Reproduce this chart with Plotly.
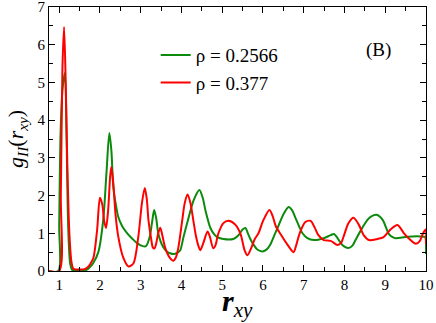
import plotly.graph_objects as go

# rho = 0.2566 (green)
green_x = [0.75, 0.98, 1.00, 1.03, 1.08, 1.14, 1.18, 1.22, 1.27, 1.32, 1.5, 1.65, 1.75, 1.84, 1.96,
           2.08, 2.16, 2.23, 2.28, 2.33, 2.40, 2.45, 2.55, 2.67, 2.8, 2.91, 3.05, 3.13, 3.22, 3.28,
           3.33, 3.38, 3.43, 3.49, 3.55, 3.64, 3.72, 3.82, 3.92, 3.97, 4.05, 4.14, 4.3, 4.44, 4.52,
           4.59, 4.71, 4.8, 4.88, 5.03, 5.27, 5.4, 5.5, 5.57, 5.63, 5.69, 5.78, 5.86, 5.99, 6.1,
           6.18, 6.28, 6.38, 6.5, 6.63, 6.72, 6.8, 6.88, 6.97, 7.08, 7.25, 7.49, 7.66, 7.74, 7.8,
           7.86, 7.98, 8.1, 8.2, 8.27, 8.44, 8.6, 8.79, 8.94, 9.02, 9.09, 9.18, 9.26, 9.55, 9.94,
           9.98, 10.0]
green_g = [0, 0, 1.2, 3.5, 4.8, 5.25, 3.6, 1.2, 0.2, 0.03, 0.0, 0.02, 0.1, 0.22, 0.5,
           1.35, 2.6, 3.66, 3.2, 2.2, 1.7, 1.43, 1.18, 1.0, 0.85, 0.74, 0.66, 0.66, 0.9, 1.3,
           1.62, 1.4, 1.0, 0.78, 0.64, 0.52, 0.47, 0.45, 0.5, 0.55, 0.9, 1.27, 1.88, 2.15, 1.95,
           1.6, 1.14, 0.98, 0.9, 0.85, 0.85, 0.95, 1.1, 1.14, 1.0, 0.85, 0.68, 0.57, 0.52, 0.58,
           0.7, 0.95, 1.2, 1.5, 1.7, 1.6, 1.4, 1.2, 1.0, 0.88, 0.82, 0.87, 0.95, 0.98, 0.92,
           0.82, 0.66, 0.61, 0.68, 0.82, 1.15, 1.4, 1.49, 1.35, 1.15, 0.98, 0.9, 0.87, 0.91, 0.91,
           0.9, 0.45]

# rho = 0.377 (red)
red_x = [0.75, 1.00, 1.04, 1.08, 1.12, 1.16, 1.2, 1.25, 1.3, 1.35, 1.5, 1.62, 1.70, 1.77, 1.84,
         1.93, 2.0, 2.06, 2.1, 2.15, 2.2, 2.25, 2.28, 2.33, 2.38, 2.45, 2.57, 2.7, 2.82, 2.94,
         3.03, 3.1, 3.15, 3.19, 3.25, 3.3, 3.34, 3.38, 3.43, 3.48, 3.53, 3.6, 3.72, 3.8, 3.86,
         3.92, 4.02, 4.08, 4.15, 4.22, 4.29, 4.36, 4.42, 4.46, 4.54, 4.64, 4.7, 4.78, 4.84, 4.9,
         5.03, 5.15, 5.32, 5.45, 5.55, 5.62, 5.7, 5.8, 5.89, 6.01, 6.16, 6.24, 6.31, 6.43, 6.6,
         6.75, 6.82, 6.9, 7.04, 7.17, 7.27, 7.36, 7.49, 7.66, 7.83, 7.92, 7.98, 8.1, 8.22, 8.35,
         8.47, 8.6, 8.81, 8.96, 9.13, 9.3, 9.46, 9.62, 9.75, 9.85, 9.92, 9.99, 10.0]
red_g = [0, 0, 2.0, 5.4, 6.47, 5.0, 2.8, 1.0, 0.25, 0.06, 0.04, 0.05, 0.1, 0.2, 0.35,
         1.08, 1.94, 1.75, 1.35, 1.14, 1.6, 2.5, 2.76, 2.3, 1.53, 0.91, 0.36, 0.12, 0.2, 0.9,
         1.8, 2.2, 1.9, 1.35, 0.9, 0.62, 0.6, 0.73, 1.0, 1.15, 0.95, 0.62, 0.34, 0.27, 0.35,
         0.6, 1.35, 1.8, 2.03, 1.8, 1.35, 0.9, 0.65, 0.55, 0.75, 1.05, 0.9, 0.6, 0.7, 0.98,
         1.27, 1.33, 1.23, 0.98, 0.55, 0.42, 0.58, 0.85, 1.0, 1.35, 1.62, 1.45, 1.2, 0.98, 0.7,
         0.5, 0.7, 1.0, 1.3, 1.33, 1.15, 0.95, 0.82, 0.8, 0.69, 0.75, 0.92, 1.27, 1.41, 1.23,
         0.95, 0.82, 0.85, 0.9, 1.1, 1.22, 1.0, 0.82, 0.72, 0.8, 0.98, 1.1, 0.7]

series_names = ["\u03c1 = 0.2566", "\u03c1 = 0.377"]
x_ticks = [1, 2, 3, 4, 5, 6, 7, 8, 9, 10]
y_ticks = [0, 1, 2, 3, 4, 5, 6, 7]

SERIF = "Liberation Serif, Times New Roman, DejaVu Serif, serif"

fig = go.Figure()
fig.add_trace(go.Scatter(x=green_x, y=green_g, mode="lines", name=series_names[0],
                         line=dict(color="#0c8a0c", width=2, shape="spline", smoothing=0.8)))
fig.add_trace(go.Scatter(x=red_x, y=red_g, mode="lines", name=series_names[1],
                         line=dict(color="#ff0000", width=2, shape="spline", smoothing=0.8)))

axis_common = dict(showline=True, linecolor="black", linewidth=1, mirror="ticks",
                   ticks="inside", ticklen=6, tickcolor="black", tickwidth=1,
                   showgrid=False, zeroline=False, automargin=False,
                   ticklabeloverflow="allow",
                   tickfont=dict(family=SERIF, size=15, color="black"))

fig.update_xaxes(range=[0.75, 10], tickvals=x_ticks, ticktext=[str(v) for v in x_ticks],
                 minor=dict(dtick=0.5, tick0=0, ticks="inside", ticklen=4, tickcolor="black"),
                 **axis_common)
fig.update_yaxes(range=[0, 7], tickvals=y_ticks, ticktext=[str(v) for v in y_ticks],
                 minor=dict(dtick=0.5, tick0=0, ticks="inside", ticklen=4, tickcolor="black"),
                 **axis_common)

# axis titles
fig.add_annotation(text="<b><i>r</i></b><sub><i>xy</i></sub>", xref="paper", yref="paper",
                   x=0.5, y=-0.04, xanchor="center", yanchor="top", showarrow=False,
                   font=dict(family=SERIF, size=30, color="black"))
fig.add_annotation(text="<i>g</i><sub><i>II</i></sub>(<i>r</i><sub><i>xy</i></sub>)",
                   xref="paper", yref="paper", x=-0.085, y=0.5, xanchor="center", yanchor="middle",
                   textangle=-90, showarrow=False,
                   font=dict(family=SERIF, size=22, color="black"))

fig.add_annotation(text="(B)", xref="paper", yref="paper", x=0.913, y=0.888,
                   showarrow=False, font=dict(family=SERIF, size=19, color="black"))

fig.update_layout(
    width=436, height=323,
    margin=dict(l=49, r=10, t=7, b=52, autoexpand=False),
    paper_bgcolor="white", plot_bgcolor="white",
    showlegend=True,
    legend=dict(x=0.283, y=0.89, xanchor="left", yanchor="top",
                bgcolor="rgba(0,0,0,0)", font=dict(family=SERIF, size=19, color="black"),
                tracegroupgap=0, itemwidth=30),
)

fig.write_html("out.html", config={"displayModeBar": False},
               post_script="document.body.style.margin='0';document.body.style.padding='0';")
